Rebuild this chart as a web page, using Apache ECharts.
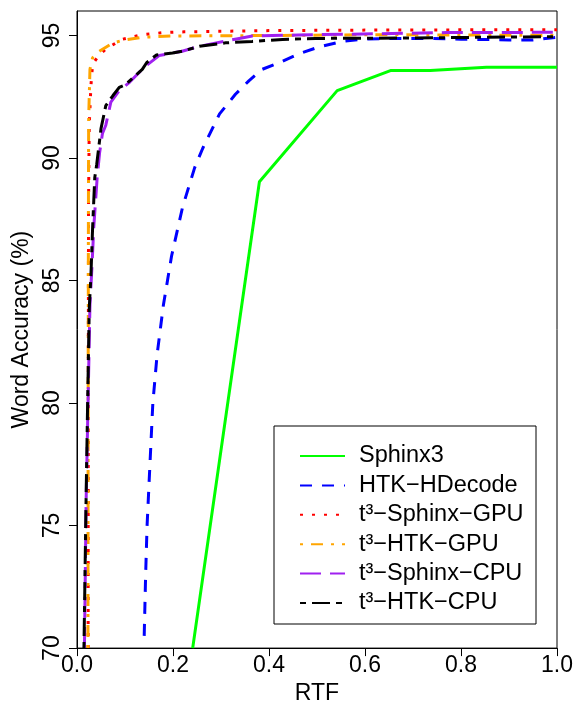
<!DOCTYPE html>
<html>
<head>
<meta charset="utf-8">
<script src="https://cdn.jsdelivr.net/npm/echarts@6/dist/echarts.min.js"></script>
<style>
html,body{margin:0;padding:0;background:#fff;}
#chart{width:576px;height:710px;}
</style>
</head>
<body>
<div id="chart"></div>
<script>
// Data (RTF, word accuracy %)
const seriesNames = ["Sphinx3", "HTK\u2212HDecode", "t\u00b3\u2212Sphinx\u2212GPU", "t\u00b3\u2212HTK\u2212GPU", "t\u00b3\u2212Sphinx\u2212CPU", "t\u00b3\u2212HTK\u2212CPU"];

const sphinx3 = [[0.241,70],[0.38,89.03],[0.542,92.75],[0.653,93.57],[0.736,93.57],[0.853,93.7],[1.0,93.7]];

const htkHDecode = [[0.14,70.5],[0.143,73],[0.146,75],[0.151,77.1],[0.158,80],[0.167,82],[0.18,84],[0.197,86],[0.22,88],[0.245,89.6],[0.262,90.4],[0.297,91.8],[0.33,92.6],[0.358,93.15],[0.386,93.62],[0.428,93.95],[0.463,94.26],[0.504,94.53],[0.552,94.76],[0.6,94.86],[0.68,94.88],[0.74,94.88],[0.8,94.85],[0.9,94.82],[0.95,94.82],[1.0,94.93]];

const t3SphinxGPU = [[0.0232,70],[0.0235,80],[0.024,88],[0.0255,91.34],[0.029,92.95],[0.0325,93.82],[0.045,94.18],[0.06,94.45],[0.095,94.85],[0.136,95.03],[0.181,95.12],[0.223,95.15],[0.4,95.2],[0.6,95.22],[0.8,95.23],[1.0,95.23]];

const t3HtkGPU = [[0.0228,70],[0.0232,80],[0.0238,88],[0.0243,91.6],[0.027,93.62],[0.0325,94.09],[0.046,94.35],[0.074,94.69],[0.095,94.8],[0.136,94.93],[0.199,94.98],[0.4,95.0],[0.6,95.03],[0.8,95.02],[1.0,95.0]];

const t3SphinxCPU = [[0.0155,70],[0.019,76],[0.023,80],[0.027,84],[0.031,85.5],[0.035,87.2],[0.042,89.2],[0.047,90.2],[0.053,91.0],[0.06,91.34],[0.0705,92.28],[0.088,92.75],[0.11,93.1],[0.136,93.62],[0.143,93.75],[0.171,94.18],[0.219,94.36],[0.255,94.56],[0.29,94.7],[0.338,94.88],[0.365,94.98],[0.46,95.02],[0.68,95.09],[0.77,95.12],[1.0,95.13]];

const t3HtkCPU = [[0.0145,70],[0.0187,75.8],[0.022,79.83],[0.0255,83.85],[0.029,85.2],[0.0326,87.2],[0.037,89.2],[0.041,89.73],[0.05,91.2],[0.06,92.14],[0.075,92.55],[0.088,92.88],[0.1,92.98],[0.136,93.62],[0.145,93.89],[0.165,94.2],[0.199,94.29],[0.219,94.36],[0.255,94.56],[0.31,94.7],[0.365,94.76],[0.428,94.84],[0.497,94.88],[0.7,94.9],[0.85,94.93],[1.0,94.95]];

const xTicks = [0, 0.2, 0.4, 0.6, 0.8, 1.0];
const yTicks = [70, 75, 80, 85, 90, 95];

const FONT = "Liberation Sans, Arial, Helvetica, sans-serif";
const chart = echarts.init(document.getElementById('chart'), null, {renderer: 'canvas'});

function mk(name, data, color, type) {
  return {
    name: name, type: 'line', data: data, showSymbol: false, symbol: 'none',
    smooth: false, clip: true, animation: false,
    lineStyle: {color: color, width: 3, type: type, cap: 'butt'},
    itemStyle: {color: color}
  };
}

const option = {
  animation: false,
  backgroundColor: '#ffffff',
  grid: {left: 77, right: 17, top: 11, bottom: 53, show: true, borderColor: '#000', borderWidth: 1, backgroundColor: 'transparent'},
  xAxis: {
    type: 'value', min: 0, max: 1, interval: 0.2,
    name: 'RTF', nameLocation: 'middle', nameGap: 33,
    nameTextStyle: {fontFamily: FONT, fontSize: 23, color: '#000'},
    axisLine: {show: true, onZero: false, lineStyle: {color: '#000', width: 1}},
    axisTick: {show: true, length: 8, lineStyle: {color: '#000'}},
    axisLabel: {fontFamily: FONT, fontSize: 23, color: '#000', margin: 6,
      customValues: xTicks, formatter: v => v.toFixed(1)},
    splitLine: {show: false}
  },
  yAxis: {
    type: 'value', min: 70, max: 96, interval: 5,
    name: 'Word Accuracy (%)', nameLocation: 'middle', nameGap: 39,
    nameTextStyle: {fontFamily: FONT, fontSize: 23, color: '#000'},
    axisLine: {show: true, onZero: false, lineStyle: {color: '#000', width: 1}},
    axisTick: {show: true, length: 8, customValues: yTicks, lineStyle: {color: '#000'}},
    axisLabel: {fontFamily: FONT, fontSize: 23, color: '#000', rotate: 90, margin: 13,
      customValues: yTicks},
    splitLine: {show: false}
  },
  legend: {
    orient: 'vertical', left: 294, top: 439, itemWidth: 45, itemHeight: 14, itemGap: 5.4,
    textStyle: {fontFamily: FONT, fontSize: 23.5, color: '#000', padding: [0, 0, 0, 9]},
    itemStyle: {color: 'rgba(0,0,0,0)', borderWidth: 0, opacity: 0},
    data: seriesNames
  },
  graphic: [{
    type: 'rect', z: 1,
    shape: {x: 274, y: 426, width: 262, height: 198},
    style: {fill: '#fff', stroke: '#000', lineWidth: 1}
  }],
  series: [
    mk(seriesNames[0], sphinx3, '#00ff00', 'solid'),
    mk(seriesNames[1], htkHDecode, '#0000ff', [12, 10]),
    mk(seriesNames[2], t3SphinxGPU, '#ff0000', [3, 9]),
    mk(seriesNames[3], t3HtkGPU, '#ffa500', [3, 8, 12, 8]),
    mk(seriesNames[4], t3SphinxCPU, '#a020f0', [21, 9]),
    mk(seriesNames[5], t3HtkCPU, '#000000', [6, 6, 18, 6])
  ]
};
chart.setOption(option);
</script>
</body>
</html>
